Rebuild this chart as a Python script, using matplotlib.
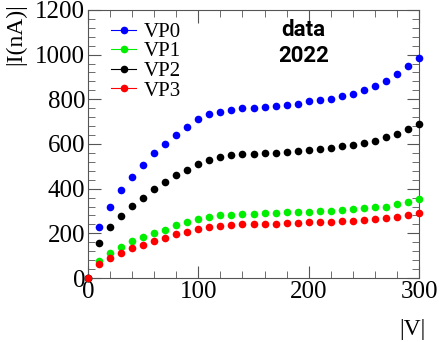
import numpy as np
import matplotlib.pyplot as plt
from matplotlib.ticker import MultipleLocator

# ------------------------------------------------------------------------------
# DATOS
# ------------------------------------------------------------------------------
voltage = [0, 10, 20, 30, 40, 50, 60, 70, 80, 90, 100, 110, 120, 130, 140, 150,
           160, 170, 180, 190, 200, 210, 220, 230, 240, 250, 260, 270, 280, 290, 300]

vp0 = [0, 227, 319, 394, 451, 506, 558, 600, 642, 678, 710, 733, 745, 752, 760, 761,
       764, 770, 773, 779, 793, 796, 800, 813, 824, 840, 858, 882, 914, 948, 984]
vp1 = [0, 76, 110, 140, 167, 185, 203, 215, 237, 249, 264, 275, 282, 282, 287, 287,
       292, 292, 294, 297, 297, 300, 300, 304, 309, 312, 316, 319, 330, 342, 352]
vp2 = [0, 158, 230, 279, 324, 360, 397, 428, 461, 484, 510, 528, 540, 551, 555, 555,
       561, 561, 564, 569, 573, 578, 581, 591, 596, 603, 613, 630, 645, 665, 690]
vp3 = [0, 61, 91, 113, 136, 148, 167, 178, 196, 207, 219, 230, 233, 237, 242, 242,
       242, 242, 245, 245, 252, 249, 249, 257, 257, 260, 263, 267, 275, 282, 290]

series = [("VP0", vp0, "#0000ff"), ("VP1", vp1, "#00ee00"),
          ("VP2", vp2, "#000000"), ("VP3", vp3, "#ff0000")]

# ------------------------------------------------------------------------------
# GRAFICA
# ------------------------------------------------------------------------------
plt.rcParams['font.family'] = ['Liberation Serif', 'DejaVu Serif']

fig = plt.figure(figsize=(4.44, 3.42), dpi=100)
ax = fig.add_axes([0.198, 0.187, 0.746, 0.784])

handles = []
for name, vals, col in series:
    ax.plot(voltage, vals, linestyle='none', marker='o', markersize=5.5,
            color=col, markeredgewidth=0, clip_on=False, zorder=3)
    h, = ax.plot([], [], color=col, marker='o', markersize=5.5, linewidth=0.8,
                 markeredgewidth=0, label=name)
    handles.append(h)

ax.set_xlim(0, 300)
ax.set_ylim(0, 1200)
ax.xaxis.set_major_locator(MultipleLocator(100))
ax.xaxis.set_minor_locator(MultipleLocator(20))
ax.yaxis.set_major_locator(MultipleLocator(200))
ax.yaxis.set_minor_locator(MultipleLocator(40))
ax.tick_params(which='both', direction='in', top=True, right=True,
               color='#555555', labelsize=18, pad=2)
ax.tick_params(which='major', length=9)
ax.tick_params(which='minor', length=5)
for s in ax.spines.values():
    s.set_color('#555555')

fig.text(0.012, 0.99, "|I(nA)|", rotation=90, ha='left', va='top', fontsize=17)
fig.text(0.958, 0.005, "|V|", ha='right', va='bottom', fontsize=17)

ax.legend(handles=handles, loc='upper left', bbox_to_anchor=(0.045, 0.985),
          frameon=False, fontsize=15, handlelength=1.2, handletextpad=0.35,
          labelspacing=0.0, borderaxespad=0)

ax.text(0.65, 0.965, "data\n2022", transform=ax.transAxes, ha='center', va='top',
        fontsize=16, fontweight='bold', family=['Roboto', 'DejaVu Sans'],
        linespacing=1.2)

fig.savefig("out.png", dpi=100)
